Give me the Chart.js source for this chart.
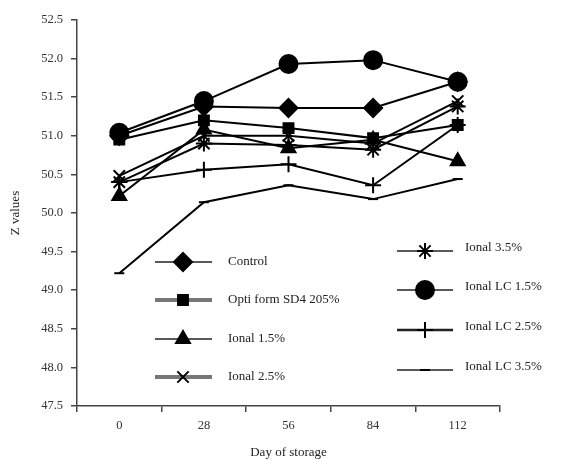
<!DOCTYPE html>
<html>
<head>
<meta charset="utf-8">
<script src="https://cdn.jsdelivr.net/npm/chart.js@4.4.0/dist/chart.umd.min.js"></script>
<style>
  html, body { margin: 0; padding: 0; background: #fff; }
  #wrap { width: 574px; height: 460px; }
</style>
</head>
<body>
<div id="wrap"><canvas id="chart"></canvas></div>
<script>
const days = ['0', '28', '56', '84', '112']
const yTicks = [47.5, 48.0, 48.5, 49.0, 49.5, 50.0, 50.5, 51.0, 51.5, 52.0, 52.5]

const control = [51.00, 51.38, 51.36, 51.36, 51.70]
const optiForm = [50.95, 51.20, 51.10, 50.97, 51.14]
const ional15 = [50.22, 51.08, 50.84, 50.95, 50.67]
const ional25 = [50.48, 51.00, 51.00, 50.90, 51.45]
const ional35 = [50.40, 50.90, 50.88, 50.82, 51.38]
const ionalLC15 = [51.04, 51.45, 51.93, 51.98, 51.70]
const ionalLC25 = [50.40, 50.56, 50.63, 50.36, 51.14]
const ionalLC35 = [49.22, 50.14, 50.36, 50.18, 50.44]

const serif = 'Liberation Serif'
const ink = '#222'

// name, data, point style, radius, legend column/row, legend line width/colour
const series = [
  { name: 'Control', data: control, style: 'rectRot', r: 9, col: 0, row: 0, lw: 1.5, lc: '#222' },
  { name: 'Opti form SD4 205%', data: optiForm, style: 'rect', r: 7, col: 0, row: 1, lw: 4, lc: '#777' },
  { name: 'Ional 1.5%', data: ional15, style: 'triangle', r: 8, col: 0, row: 2, lw: 1.5, lc: '#222' },
  { name: 'Ional 2.5%', data: ional25, style: 'crossRot', r: 8, col: 0, row: 3, lw: 4, lc: '#777' },
  { name: 'Ional 3.5%', data: ional35, style: 'star', r: 8, col: 1, row: 0, lw: 1.5, lc: '#222' },
  { name: 'Ional LC 1.5%', data: ionalLC15, style: 'circle', r: 9, col: 1, row: 1, lw: 1.5, lc: '#222' },
  { name: 'Ional LC 2.5%', data: ionalLC25, style: 'cross', r: 8, col: 1, row: 2, lw: 2.5, lc: '#222' },
  { name: 'Ional LC 3.5%', data: ionalLC35, style: 'line', r: 5, col: 1, row: 3, lw: 1.5, lc: '#222' }
]

const legendPos = [
  { lineX0: 155, lineX1: 212, markX: 183, textX: 228, rows: [262, 300, 339, 377], textDy: 0 },
  { lineX0: 397, lineX1: 453, markX: 425, textX: 465, rows: [251, 290, 330, 370], textDy: -3 }
]

const customLegend = {
  id: 'customLegend',
  afterDraw(chart) {
    const ctx = chart.ctx
    ctx.save()
    series.forEach(s => {
      const p = legendPos[s.col]
      const y = p.rows[s.row]
      ctx.strokeStyle = s.lc
      ctx.lineWidth = s.lw
      ctx.beginPath()
      ctx.moveTo(p.lineX0, y)
      ctx.lineTo(p.lineX1, y)
      ctx.stroke()
      ctx.fillStyle = '#000'
      ctx.strokeStyle = '#000'
      ctx.lineWidth = 2
      Chart.helpers.drawPoint(ctx, { pointStyle: s.style, radius: s.r, rotation: 0, borderWidth: 2 }, p.markX, y)
      ctx.fillStyle = ink
      ctx.font = '13px "' + serif + '"'
      ctx.textAlign = 'left'
      ctx.textBaseline = 'middle'
      ctx.fillText(s.name, p.textX, y + p.textDy)
    })
    ctx.restore()
  }
}

new Chart(document.getElementById('chart'), {
  type: 'line',
  data: {
    labels: days,
    datasets: series.map(s => ({
      label: s.name,
      data: s.data,
      borderColor: '#000',
      backgroundColor: '#000',
      borderWidth: 2,
      pointStyle: s.style,
      pointRadius: s.r,
      pointBorderWidth: 2,
      pointBorderColor: '#000',
      pointBackgroundColor: '#000',
      tension: 0,
      fill: false
    }))
  },
  options: {
    responsive: true,
    maintainAspectRatio: false,
    animation: false,
    layout: { padding: { left: 0, right: 74, top: 20, bottom: 0 } },
    plugins: {
      legend: { display: false },
      tooltip: { enabled: false }
    },
    scales: {
      x: {
        type: 'category',
        offset: true,
        border: { color: '#444', width: 1.5 },
        grid: { offset: true, drawOnChartArea: false, drawTicks: true, tickLength: 6, color: '#444', lineWidth: 1.5 },
        ticks: { color: '#333', font: { family: serif, size: 12.5 }, padding: 6, maxRotation: 0 },
        title: { display: true, text: 'Day of storage', color: ink, font: { family: serif, size: 13 }, padding: { top: 0, bottom: 0 } },
        afterFit(scale) { scale.height = 54 }
      },
      y: {
        min: 47.5,
        max: 52.5,
        afterBuildTicks(scale) { scale.ticks = yTicks.map(v => ({ value: v })) },
        border: { color: '#444', width: 1.5 },
        grid: { drawOnChartArea: false, drawTicks: true, tickLength: 6, color: '#444', lineWidth: 1.5 },
        ticks: { color: '#333', font: { family: serif, size: 12.5 }, padding: 8, callback: v => v.toFixed(1) },
        title: { display: true, text: 'Z values', color: ink, font: { family: serif, size: 13 }, padding: { top: 8, bottom: 10 } },
        afterFit(scale) { scale.width = 77 }
      }
    }
  },
  plugins: [customLegend]
})
</script>
</body>
</html>
